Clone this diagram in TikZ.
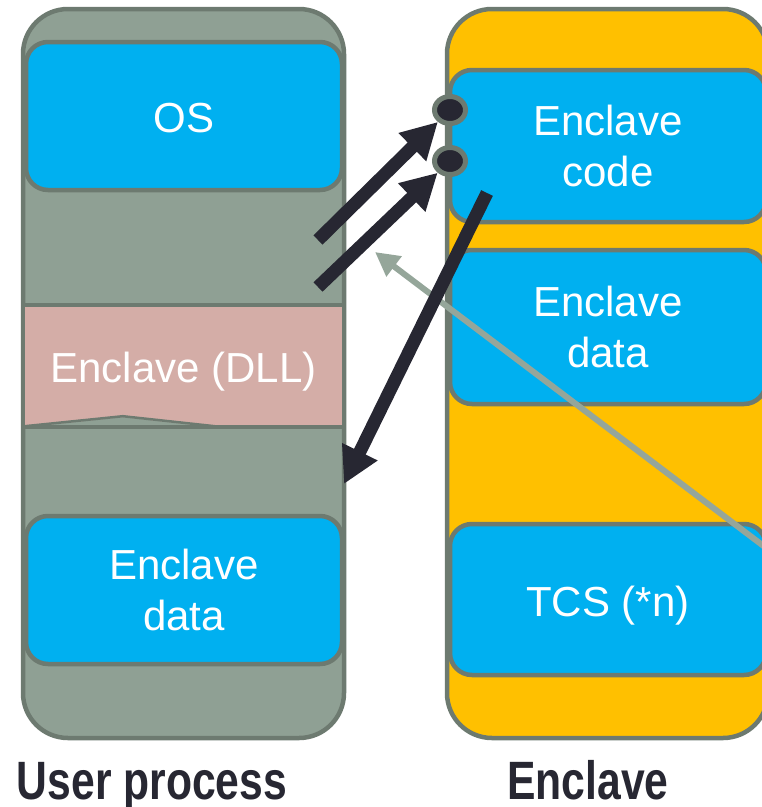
\documentclass[tikz,border=0pt]{standalone}
\usepackage{fontspec}
\setmainfont{Liberation Sans}
\newfontfamily\narrowbf[FakeStretch=0.79]{Liberation Sans Bold}
\usepackage{tikz}
\usetikzlibrary{arrows.meta,positioning,shapes.geometric}

\definecolor{bodygray}{HTML}{8FA094}
\definecolor{edgegray}{HTML}{6D7A70}
\definecolor{encblue}{HTML}{00B0F0}
\definecolor{encorange}{HTML}{FFC000}
\definecolor{dllpink}{HTML}{D4ADA7}
\definecolor{inkdark}{HTML}{272732}
\definecolor{callgray}{HTML}{95A69A}

\begin{document}
\begin{tikzpicture}[x=1pt,y=-1pt,align=center,
	column/.style={draw=edgegray,line width=4.5pt,rounded corners=45pt,minimum width=321pt,minimum height=729pt},
	block/.style={draw=edgegray,line width=4.5pt,fill=encblue,rounded corners=22pt,minimum width=316pt,minimum height=148pt,text=white,font=\fontsize{42}{51}\selectfont},
	oneline/.style={text height=33pt,text depth=0pt},
	dot/.style={ellipse,draw=edgegray,line width=5pt,fill=inkdark,minimum width=31pt,minimum height=27pt,inner sep=0pt},
	caption/.style={anchor=base,inner sep=0pt,text depth=0pt,text=inkdark,font=\narrowbf\fontsize{54}{60}\selectfont},
	call/.style={inkdark,line width=13pt,-{Triangle[length=36pt,width=37pt]}},
	back/.style={callgray,line width=6pt,-{Triangle[length=24pt,width=24pt]}}]
		\useasboundingbox (0,0) rectangle (762,807);
		% the two columns
		\node[column,fill=bodygray] (user) at (183.5,373.5) {};
		\node[column,fill=encorange] (encl) at (607.5,373.5) {};
		% user process side
		\node[block,oneline] (os) at (184,116) {OS};
		\node[fill=dllpink,minimum width=317pt,minimum height=122pt,text=white,font=\fontsize{42}{51}\selectfont,oneline] (dll) at (183.5,366) {Enclave (DLL)};
		\draw[edgegray,line width=4.5pt] (dll.north west) -- (dll.north east);
		\fill[bodygray] (dll.south west) -- ++(98,-10) -- ++(92,10) -- cycle;
		\draw[edgegray,line width=2.5pt] ([yshift=1pt]dll.south west) -- ++(98,-10) -- ++(92,10);
		\draw[edgegray,line width=4.5pt] (dll.south west) -- (dll.south east);
		\node[block] (udata) at (184,590) {Enclave\\data};
		% enclave side
		\node[block,minimum height=152pt] (code) at (608,146) {Enclave\\code};
		\node[block,minimum height=154pt] (edata) at (608,327) {Enclave\\data};
		\node[block,minimum height=151pt,oneline] (tcs) at (608,599.5) {TCS (*n)};
		\node[dot] (d_1) at (450,110) {};
		\node[dot] (d_2) at (450,161) {};
		% captions
		\node[caption] (ucap) at (152,799) {User process};
		\node[caption] (ecap) at (588,799) {Enclave};
		% calls
		\coordinate (a_1) at (318,240);
		\coordinate (a_2) at (318,287);
		\coordinate (a_3) at (487,193);
		\coordinate (a_4) at (344,484);
		\coordinate (g_0) at (790,566);
		\coordinate (g_1) at (375,252);
		\path[back] (g_0) edge (g_1);
		\path[call]
			(a_1) edge (d_1)
			(a_2) edge (d_2)
			(a_3) edge (a_4);
	\end{tikzpicture}
\end{document}
